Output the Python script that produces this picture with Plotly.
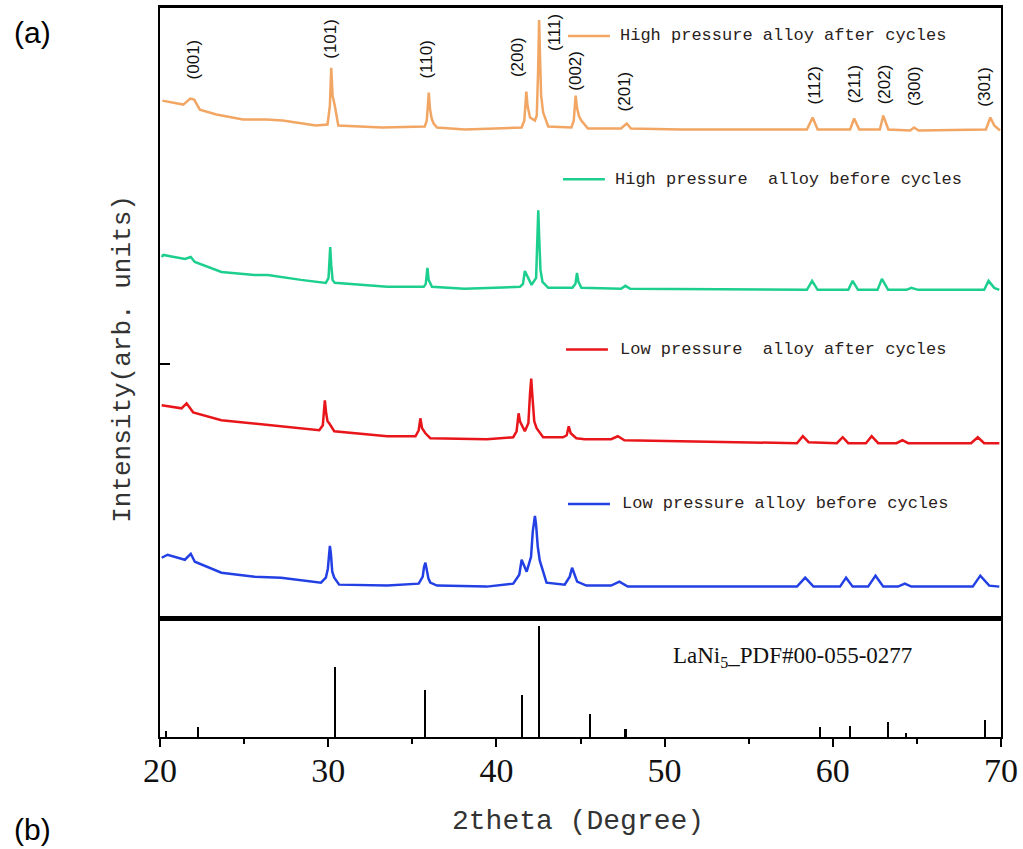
import plotly.graph_objects as go

# ---------------- data ----------------
# High pressure alloy after cycles (orange)
hp_after_x = [20.14, 21.38, 21.80, 22.03, 22.37, 23.35, 24.93, 26.31, 27.30, 29.27, 29.96, 30.10,
              30.18, 30.26, 30.39, 30.45, 30.60, 33.20, 35.74, 35.86, 35.93, 35.98, 36.05, 36.15,
              36.27, 36.47, 38.13, 41.50, 41.66, 41.73, 41.78, 41.85, 42.00, 42.29, 42.40, 42.48,
              42.54, 42.60, 42.66, 42.78, 43.08, 44.46, 44.60, 44.67, 44.71, 44.80, 44.92, 45.05,
              45.44, 47.41, 47.75, 48.00, 50.97, 58.46, 58.80, 59.10, 61.03, 61.27, 61.57, 62.80,
              63.00, 63.30, 64.60, 64.83, 65.10, 69.10, 69.37, 69.60, 69.94]
hp_after_y = [30, 26, 32, 31, 21, 16, 11, 11, 10, 5, 6, 25,
              63, 35, 25, 20, 5, 3, 4, 10, 28, 38, 22, 12,
              7, 3, 1, 3, 10, 28, 39, 25, 13, 10, 15, 60,
              111, 70, 35, 18, 4, 3, 10, 26, 35, 22, 14, 10,
              2, 2, 7, 2, 1, 1, 13, 1, 1, 12, 1, 1,
              15, 1, 0, 3, 0, 1, 13, 5, 0]

# High pressure alloy before cycles (green)
hp_before_x = [20.10, 20.20, 21.48, 21.83, 22.07, 23.65, 25.62, 26.41, 28.38, 29.86, 30.02, 30.08,
               30.12, 30.18, 30.26, 30.39, 33.51, 35.68, 35.80, 35.90, 35.97, 36.17, 38.10, 41.40,
               41.58, 41.69, 42.09, 42.36, 42.44, 42.49, 42.55, 42.62, 42.74, 43.08, 44.52, 44.70,
               44.79, 44.88, 45.05, 47.41, 47.67, 47.96, 58.46, 58.77, 59.10, 60.92, 61.18, 61.50,
               62.66, 62.92, 63.29, 64.38, 64.67, 65.07, 69.00, 69.26, 69.60, 69.90]
hp_before_y = [33, 35, 31, 33, 28, 18, 15, 15, 10, 7, 12, 30,
               43, 25, 10, 7, 3, 3, 6, 22, 10, 3, 1, 3,
               6, 19, 5, 12, 45, 80, 50, 20, 8, 2, 2, 6,
               17, 8, 2, 1, 4, 1, 0, 9, 0, 0, 9, 0,
               0, 11, 0, 0, 2, 0, 0, 9, 2, 0]

# Low pressure alloy after cycles (red)
lp_after_x = [20.10, 21.28, 21.58, 21.97, 23.65, 26.02, 28.18, 29.47, 29.68, 29.74, 29.80, 29.88,
              29.96, 30.06, 30.36, 33.51, 35.19, 35.38, 35.48, 35.58, 35.78, 36.07, 39.43, 41.00,
              41.20, 41.32, 41.40, 41.69, 41.90, 42.00, 42.07, 42.15, 42.25, 42.39, 42.78, 43.96,
              44.18, 44.30, 44.42, 44.75, 45.25, 46.82, 47.22, 47.61, 57.87, 58.22, 58.56, 60.24,
              60.59, 60.92, 61.97, 62.31, 62.70, 63.79, 64.14, 64.48, 68.22, 68.62, 69.00, 69.90]
lp_after_y = [38, 35, 40, 31, 23, 19, 15, 13, 18, 33, 43, 30,
              22, 20, 12, 7, 7, 13, 25, 15, 10, 5, 4, 6,
              12, 30, 22, 12, 20, 50, 65, 45, 22, 15, 6, 6,
              8, 17, 10, 5, 4, 4, 7, 3, 0, 7, 1, 0,
              6, 0, 0, 7, 0, 0, 3, 0, 0, 6, 0, 0]

# Low pressure alloy before cycles (blue)
lp_before_x = [20.10, 20.45, 21.48, 21.83, 22.07, 23.65, 25.62, 27.20, 29.57, 29.86, 29.98, 30.04,
               30.10, 30.16, 30.24, 30.36, 30.65, 33.51, 35.38, 35.62, 35.70, 35.78, 35.86, 35.96,
               36.07, 36.47, 39.43, 41.00, 41.36, 41.44, 41.50, 41.80, 42.06, 42.16, 42.24, 42.29,
               42.36, 42.46, 42.58, 42.98, 44.06, 44.36, 44.50, 44.62, 44.80, 45.35, 46.82, 47.31,
               47.81, 57.87, 58.36, 58.85, 60.43, 60.79, 61.18, 62.10, 62.54, 63.00, 63.88, 64.28,
               64.67, 68.32, 68.77, 69.30, 69.90]
lp_before_y = [29, 32, 27, 33, 25, 14, 10, 9, 4, 9, 18, 33,
               41, 33, 15, 9, 2, 1, 3, 10, 20, 24, 18, 8,
               4, 1, 0, 3, 12, 24, 27, 15, 30, 55, 70, 71,
               62, 40, 26, 4, 2, 10, 19, 13, 5, 1, 1, 5,
               0, 0, 9, 0, 0, 9, 0, 0, 11, 0, 0, 3,
               0, 0, 11, 1, 0]

series_names = ["High pressure alloy after cycles", "High pressure\u00a0 alloy before cycles",
                "Low pressure\u00a0 alloy after cycles", "Low pressure alloy before cycles"]
series_colors = ["#F2A664", "#1CCF8E", "#E8161A", "#2340E4"]
series_offsets = [490, 330, 176, 32]

# Reference pattern LaNi5 PDF#00-055-0277
ref_pos = [20.37, 22.29, 30.41, 35.79, 41.54, 42.54, 45.56, 47.69, 59.23, 61.06, 63.32, 64.35, 69.07]
ref_int = [5.4, 8.4, 62.8, 42.3, 37.2, 100, 20.1, 6.9, 8.4, 9.9, 13.5, 3.3, 15.3]

# hkl labels
hkl_labels = ["(001)", "(101)", "(110)", "(200)", "(111)", "(002)", "(201)",
              "(112)", "(211)", "(202)", "(300)", "(301)"]
hkl_x = [22.0, 30.16, 35.86, 41.3, 43.49, 44.73, 47.63, 58.93, 61.3, 63.08, 64.85, 69.05]
hkl_y = [561, 582, 561, 564, 588, 550, 529, 535, 536, 536, 535, 534]

x_ticks = [20, 30, 40, 50, 60, 70]

# ---------------- figure ----------------
curves_x = [hp_after_x, hp_before_x, lp_after_x, lp_before_x]
curves_y = [hp_after_y, hp_before_y, lp_after_y, lp_before_y]

fig = go.Figure()
for cx, cy, name, col, off in zip(curves_x, curves_y, series_names, series_colors, series_offsets):
    fig.add_trace(go.Scatter(x=cx, y=[v + off for v in cy], mode="lines", name=name,
                             line=dict(color=col, width=2.5), xaxis="x2", yaxis="y2",
                             showlegend=False))

fig.add_trace(go.Bar(x=ref_pos, y=ref_int, width=0.1, marker=dict(color="black", line=dict(width=0)),
                     xaxis="x", yaxis="y", showlegend=False))

annotations = []
for lab, hx, hy in zip(hkl_labels, hkl_x, hkl_y):
    annotations.append(dict(text=lab, x=hx, y=hy, xref="x2", yref="y2", showarrow=False,
                            textangle=-90, font=dict(family="Liberation Sans, Arial", size=17, color="#111")))

# in-plot legend (line sample + text next to each curve)
leg_line_x0 = [44.26, 43.96, 44.14, 44.26]
leg_line_x1 = [46.75, 46.45, 46.63, 46.75]
leg_text_x = [47.22, 46.92, 47.22, 47.32]
leg_y = [585, 441, 270, 115]
shapes = []
for name, col, x0, x1, tx, ly in zip(series_names, series_colors, leg_line_x0, leg_line_x1, leg_text_x, leg_y):
    shapes.append(dict(type="line", xref="x2", yref="y2", x0=x0, x1=x1, y0=ly, y1=ly,
                       line=dict(color=col, width=2.5)))
    annotations.append(dict(text=name, x=tx, y=ly, xref="x2", yref="y2", showarrow=False,
                            xanchor="left", yanchor="middle",
                            font=dict(family="Liberation Mono, Courier New", size=17, color="#2a2220")))

annotations.append(dict(text="LaNi<sub>5</sub>_PDF#00-055-0277", x=57.63, y=71.9, xref="x", yref="y",
                        showarrow=False, xanchor="center", yanchor="middle",
                        font=dict(family="Liberation Serif, Times New Roman", size=23, color="#111")))

annotations.append(dict(text="Intensity(arb. units)", x=-0.045, y=0.519, xref="paper", yref="paper",
                        showarrow=False, textangle=-90, xanchor="center", yanchor="middle",
                        font=dict(family="Liberation Mono, Courier New", size=26, color="#333")))
annotations.append(dict(text="2theta (Degree)", x=0.497, y=-0.116, xref="paper", yref="paper",
                        showarrow=False, xanchor="center", yanchor="middle",
                        font=dict(family="Liberation Mono, Courier New", size=28, color="#333")))
annotations.append(dict(text="(a)", x=-0.1515, y=0.9658, xref="paper", yref="paper",
                        showarrow=False, xanchor="center", yanchor="middle",
                        font=dict(family="Liberation Sans, Arial", size=30, color="black")))
annotations.append(dict(text="(b)", x=-0.1515, y=-0.127, xref="paper", yref="paper",
                        showarrow=False, xanchor="center", yanchor="middle",
                        font=dict(family="Liberation Sans, Arial", size=30, color="black")))

split = 119 / 732
fig.update_layout(
    width=1023, height=849,
    margin=dict(l=160, r=18, t=5, b=112),
    paper_bgcolor="white", plot_bgcolor="white",
    bargap=0,
    xaxis=dict(domain=[0, 1], range=[20, 70], anchor="y", tickvals=x_ticks,
               ticks="outside", ticklen=8, tickwidth=2, tickcolor="black", ticklabelstandoff=-6,
               minor=dict(dtick=5, tick0=20, ticks="outside", ticklen=5, tickwidth=2, tickcolor="black"),
               showline=True, linewidth=2, linecolor="black", mirror=True, showgrid=False, zeroline=False,
               tickfont=dict(family="Liberation Serif, Times New Roman", size=34, color="#111")),
    yaxis=dict(domain=[0, split], range=[0, 107], anchor="x", showticklabels=False, ticks="",
               showline=True, linewidth=2, linecolor="black", mirror=True, showgrid=False, zeroline=False),
    xaxis2=dict(domain=[0, 1], range=[20, 70], anchor="y2", matches="x", showticklabels=False, ticks="",
                showline=True, linewidth=2.5, linecolor="black", mirror=True, showgrid=False, zeroline=False),
    yaxis2=dict(domain=[split, 1], range=[0, 613], anchor="x2", tickvals=[256], showticklabels=False,
                ticks="inside", ticklen=10, tickwidth=2, tickcolor="black",
                showline=True, linewidth=2, linecolor="black", mirror=True, showgrid=False, zeroline=False),
    annotations=annotations,
    shapes=shapes,
)

fig.write_html("out.html", config={"displayModeBar": False},
               post_script="document.body.style.margin='0';")
